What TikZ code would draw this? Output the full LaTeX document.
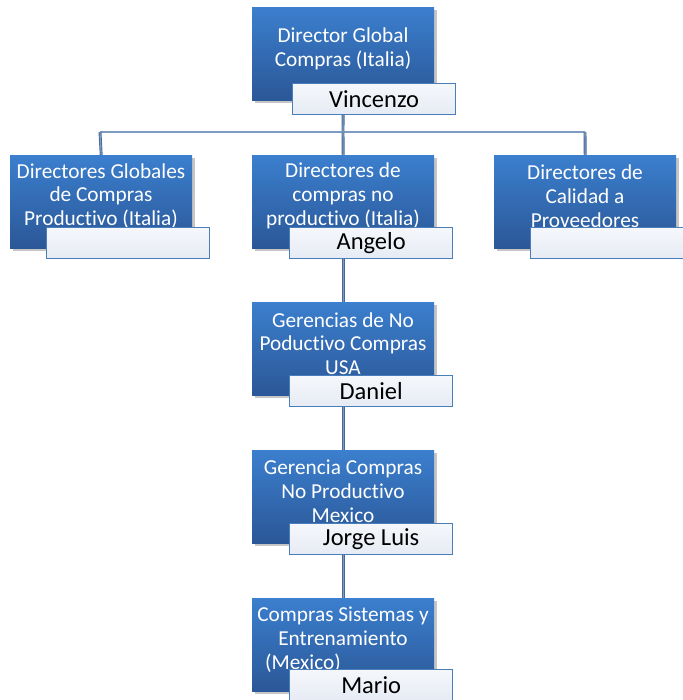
\documentclass[tikz,border=0pt]{standalone}
\usepackage{fontspec}
\setmainfont[Ligatures=NoCommon]{Carlito}
\usetikzlibrary{shadows,positioning}
\definecolor{boxtop}{HTML}{3B7FCE}
\definecolor{boxbot}{HTML}{2B5797}
\definecolor{namebd}{HTML}{4A7EBB}
\definecolor{namebot}{HTML}{E6EBF4}
\definecolor{linec}{HTML}{46699A}
\definecolor{linein}{HTML}{7E9CC2}
\tikzset{
  unitbox/.style={minimum width=182pt, minimum height=93pt, inner sep=0pt, top color=boxtop, bottom color=boxbot, draw=none,
    drop shadow={opacity=0.45, shadow xshift=2.5pt, shadow yshift=-3pt}},
  boxtext/.style={text=white, align=center, font=\fontsize{21.3}{23.8}\selectfont, inner sep=0pt},
  namebox/.style={minimum width=163pt, minimum height=31pt, inner sep=0pt, draw=namebd, line width=1.3pt, top color=namebot!40!white, bottom color=namebot, font=\fontsize{24.5}{26}\selectfont, text=black},
  conn/.style={draw=linec, line width=0.9pt, double=linein, double distance=1.1pt}
}
\begin{document}
\begin{tikzpicture}[x=1pt,y=-1pt]
\useasboundingbox (0,0) rectangle (682,700);
\coordinate (hl) at (100,132);
\coordinate (hr) at (585,132);
\coordinate (hm) at (343,132);
% boxes
\node[unitbox, anchor=north west] (b1) at (252,7) {};
\node[unitbox, anchor=north west] (b2) at (10,155) {};
\node[unitbox, anchor=north west] (b3) at (252,155) {};
\node[unitbox, anchor=north west] (b4) at (494,155) {};
\node[unitbox, anchor=north west] (b5) at (252,302) {};
\node[unitbox, anchor=north west] (b6) at (252,450) {};
\node[unitbox, anchor=north west] (b7) at (252,598) {};
% connectors
\draw[conn] (b1.south) -- (hm);
\draw[conn] (hl) -- (hr);
\draw[conn] (hl) -- (b2.north);
\draw[conn] (hm) -- (b3.north);
\draw[conn] (hr) -- (b4.north);
\draw[conn] (b3.south) -- (b5.north);
\draw[conn] (b5.south) -- (b6.north);
\draw[conn] (b6.south) -- (b7.north);
% texts
\node[boxtext] (t1) at (343,49) {Director Global\\Compras (Italia)};
\node[boxtext] (t2) at (101,196) {Directores Globales\\de Compras\\Productivo (Italia)};
\node[boxtext] (t3) at (343,196) {Directores de\\compras no\\productivo (Italia)};
\node[boxtext] (t4) at (585,196) {Directores de\\Calidad a\\Proveedores};
\node[boxtext] (t5) at (343,343.5) {Gerencias de No\\Poductivo Compras\\USA};
\node[boxtext] (t6) at (343,491.5) {Gerencia Compras\\No Productivo\\Mexico};
\node[boxtext] (t7) at (343,639.5) {Compras Sistemas y\\Entrenamiento\\(Mexico)\hspace*{80pt}};
% name boxes
\node[namebox, anchor=north west] (n1) at (292,83) {Vincenzo};
\node[namebox, anchor=north west] (n2) at (46,227) {};
\node[namebox, anchor=north west] (n3) at (289,227) {Angelo};
\node[namebox, anchor=north west] (n4) at (530,227) {};
\node[namebox, anchor=north west] (n5) at (289,375) {Daniel};
\node[namebox, anchor=north west] (n6) at (289,523) {Jorge Luis};
\node[namebox, anchor=north west] (n7) at (289,669) {Mario};
\end{tikzpicture}
\end{document}
